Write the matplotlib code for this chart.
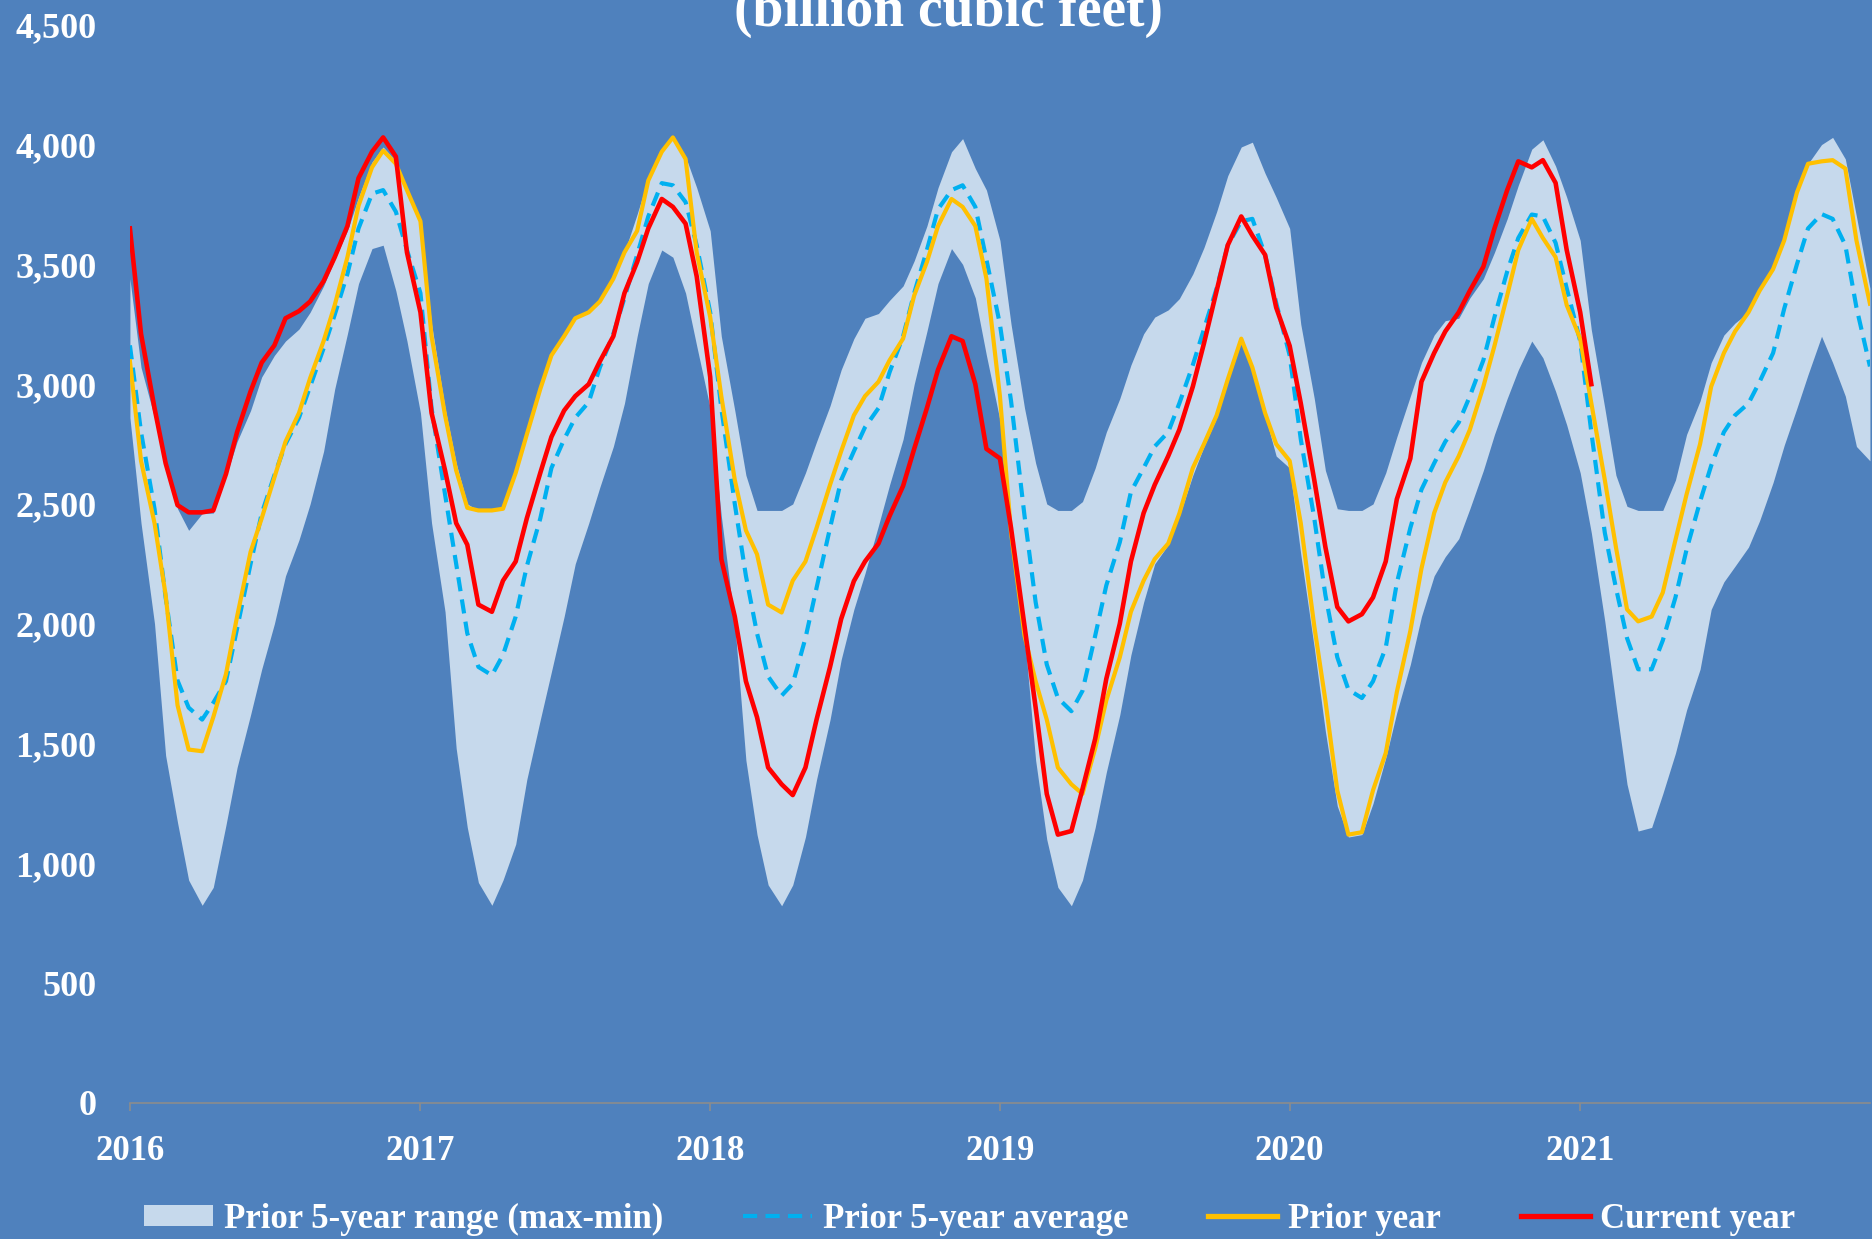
import numpy as np
import pandas as pd
import matplotlib
matplotlib.use("Agg")
import matplotlib.pyplot as plt
import matplotlib.dates as mdates
from matplotlib.patches import Patch
from matplotlib.lines import Line2D
from matplotlib.ticker import FuncFormatter

plt.rcParams['font.family'] = ['Liberation Serif', 'DejaVu Serif']
plt.rcParams['font.weight'] = 'bold'

# semi-monthly readings, 1st and 15th of each month, Jan 2016 .. Jan 2022
dates = pd.date_range('2016-01-01', '2022-01-01', freq='SMS')
year_ticks = pd.date_range('2016-01-01', '2021-01-01', freq='YS')

range_max = [
    3440, 3070, 2860, 2660, 2480, 2390, 2460, 2462, 2615, 2760, 2890, 3030, 3120, 3180, 3230, 3300, 3410, 3520, 3640, 3780, 3927, 3990, 3930, 3820,
    3690, 3250, 2900, 2670, 2500, 2473, 2473, 2480, 2630, 2790, 2980, 3120, 3205, 3280, 3300, 3350, 3440, 3550, 3710, 3860, 3980, 4030, 3950, 3820,
    3640, 3200, 2890, 2620, 2473, 2473, 2473, 2500, 2630, 2760, 2910, 3060, 3190, 3275, 3295, 3350, 3410, 3515, 3660, 3820, 3970, 4025, 3900, 3810,
    3600, 3250, 2900, 2670, 2500, 2473, 2473, 2510, 2650, 2800, 2940, 3080, 3210, 3280, 3310, 3357, 3460, 3570, 3720, 3870, 3990, 4010, 3880, 3780,
    3650, 3250, 2940, 2640, 2480, 2473, 2473, 2500, 2630, 2780, 2950, 3090, 3205, 3265, 3275, 3360, 3440, 3550, 3690, 3830, 3981, 4020, 3910, 3780,
    3600, 3227, 2900, 2620, 2490, 2473, 2473, 2473, 2600, 2790, 2930, 3090, 3205, 3255, 3300, 3390, 3480, 3600, 3800, 3920, 4000, 4030, 3940, 3700,
    3400]

range_min = [
    2860, 2420, 2000, 1450, 1170, 930, 825, 900, 1160, 1400, 1620, 1810, 2000, 2200, 2350, 2500, 2720, 2980, 3210, 3420, 3566, 3580, 3390, 3180,
    2880, 2420, 2050, 1480, 1150, 920, 825, 930, 1080, 1350, 1600, 1800, 2030, 2250, 2420, 2570, 2740, 2920, 3200, 3420, 3560, 3530, 3380, 3160,
    2900, 2450, 2000, 1430, 1120, 910, 823, 910, 1110, 1350, 1600, 1850, 2060, 2210, 2410, 2580, 2770, 3000, 3220, 3420, 3566, 3500, 3360, 3120,
    2850, 2400, 1950, 1430, 1100, 900, 823, 930, 1150, 1380, 1620, 1870, 2090, 2250, 2330, 2450, 2620, 2740, 2860, 3010, 3180, 3060, 2870, 2700,
    2650, 2290, 1900, 1550, 1239, 1110, 1120, 1250, 1440, 1630, 1830, 2030, 2200, 2280, 2355, 2480, 2640, 2790, 2940, 3060, 3180, 3110, 2970, 2830,
    2630, 2380, 2010, 1665, 1330, 1135, 1150, 1290, 1460, 1640, 1810, 2060, 2175, 2240, 2320, 2430, 2590, 2745, 2900, 3040, 3200, 3090, 2950, 2740,
    2680]

avg_5yr = [
    3162, 2800, 2480, 2110, 1763, 1650, 1600, 1670, 1760, 1980, 2250, 2460, 2620, 2750, 2860, 2990, 3150, 3290, 3460, 3650, 3795, 3810, 3720, 3560,
    3380, 2900, 2540, 2250, 1960, 1820, 1785, 1870, 2030, 2240, 2440, 2650, 2770, 2860, 2925, 3070, 3210, 3360, 3540, 3700, 3839, 3830, 3760, 3580,
    3300, 2900, 2500, 2200, 1960, 1780, 1700, 1750, 1940, 2150, 2400, 2600, 2720, 2820, 2900, 3050, 3200, 3380, 3560, 3730, 3810, 3830, 3740, 3520,
    3250, 2930, 2450, 2090, 1830, 1690, 1635, 1720, 1950, 2160, 2340, 2550, 2650, 2740, 2800, 2920, 3080, 3230, 3400, 3580, 3680, 3690, 3540, 3340,
    3120, 2770, 2440, 2120, 1860, 1725, 1690, 1760, 1900, 2170, 2400, 2560, 2670, 2760, 2840, 2950, 3100, 3280, 3470, 3610, 3708, 3700, 3590, 3400,
    3180, 2800, 2380, 2150, 1940, 1810, 1810, 1930, 2110, 2310, 2510, 2660, 2800, 2870, 2920, 3010, 3130, 3315, 3500, 3650, 3710, 3690, 3580, 3320,
    3074]

prior_year = [
    3096, 2680, 2420, 2120, 1660, 1475, 1468, 1610, 1790, 2030, 2300, 2440, 2610, 2760, 2880, 3025, 3180, 3330, 3530, 3745, 3905, 3975, 3920, 3810,
    3680, 3200, 2870, 2640, 2484, 2473, 2473, 2480, 2630, 2790, 2980, 3120, 3200, 3275, 3300, 3345, 3440, 3550, 3640, 3850, 3970, 4030, 3940, 3550,
    3280, 2950, 2600, 2390, 2290, 2080, 2047, 2180, 2260, 2400, 2580, 2720, 2870, 2950, 3010, 3100, 3190, 3370, 3510, 3660, 3773, 3740, 3660, 3440,
    2950, 2380, 1950, 1760, 1600, 1400, 1330, 1290, 1480, 1680, 1860, 2050, 2180, 2270, 2335, 2460, 2650, 2750, 2870, 3020, 3190, 3070, 2880, 2750,
    2680, 2420, 1990, 1680, 1304, 1120, 1130, 1305, 1460, 1715, 1970, 2230, 2462, 2590, 2700, 2810, 2990, 3160, 3370, 3560, 3690, 3610, 3530, 3330,
    3190, 2921, 2600, 2320, 2060, 2010, 2030, 2130, 2350, 2540, 2750, 2990, 3130, 3220, 3300, 3390, 3480, 3600, 3800, 3920, 3930, 3935, 3900, 3600,
    3336]

current_year = [
    3650, 3210, 2900, 2670, 2495, 2465, 2465, 2473, 2625, 2800, 2970, 3090, 3162, 3275, 3305, 3345, 3430, 3530, 3660, 3860, 3970, 4030, 3950, 3550,
    3300, 2880, 2640, 2420, 2330, 2080, 2050, 2180, 2260, 2440, 2630, 2780, 2890, 2950, 3000, 3095, 3200, 3380, 3510, 3650, 3773, 3740, 3670, 3450,
    3030, 2270, 2030, 1760, 1610, 1400, 1330, 1285, 1400, 1600, 1820, 2020, 2178, 2260, 2335, 2450, 2575, 2730, 2900, 3060, 3200, 3180, 3000, 2730,
    2690, 2400, 1990, 1650, 1290, 1120, 1135, 1310, 1520, 1770, 2000, 2260, 2462, 2580, 2700, 2810, 2990, 3170, 3390, 3580, 3700, 3620, 3540, 3320,
    3160, 2920, 2600, 2320, 2070, 2010, 2040, 2110, 2260, 2520, 2690, 3010, 3130, 3220, 3300, 3390, 3490, 3650, 3810, 3930, 3905, 3935, 3840, 3560,
    3300, 3000]

bg = '#4F81BD'
band_col = '#C6D9EC'
avg_col = '#00B0F0'
prior_col = '#FFC000'
cur_col = '#FF0000'
dash = (0, (3.4, 2.0))

fig = plt.figure(figsize=(18.72, 12.39), dpi=100, facecolor=bg)
ax = fig.add_axes([0.0694, 0.1098, 0.9295, 0.8702])
ax.set_facecolor(bg)

ax.fill_between(dates, range_min, range_max, color=band_col, lw=0)
ax.plot(dates, avg_5yr, color=avg_col, lw=3.0, ls=dash)
ax.plot(dates, prior_year, color=prior_col, lw=3.0)
ax.plot(dates[:len(current_year)], current_year, color=cur_col, lw=3.3)

ax.set_xlim(dates[0], dates[-1])
ax.set_ylim(0, 4500)
ax.set_yticks(np.arange(0, 4501, 500))
ax.yaxis.set_major_formatter(FuncFormatter(lambda v, p: '{:,.0f}'.format(v)))
ax.set_xticks(year_ticks)
ax.xaxis.set_major_formatter(mdates.DateFormatter('%Y'))

for s in ['top', 'right', 'left']:
    ax.spines[s].set_visible(False)
ax.spines['bottom'].set_color('#8C8C8C')
ax.spines['bottom'].set_linewidth(1.2)

ax.tick_params(axis='y', length=0, pad=24, labelsize=26, labelcolor='white')
ax.tick_params(axis='x', length=6, width=1.2, color='#8C8C8C', pad=17,
               labelsize=25, labelcolor='white')

fig.text(949 / 1872, 1 - 26 / 1239, '(billion cubic feet)', ha='center',
         va='baseline', color='white', fontsize=40, fontweight='bold')

handles = [Patch(facecolor=band_col, edgecolor='none'),
           Line2D([], [], color=avg_col, lw=3.0, ls=dash),
           Line2D([], [], color=prior_col, lw=3.8),
           Line2D([], [], color=cur_col, lw=3.8)]
labels = ['Prior 5-year range (max-min)', 'Prior 5-year average',
          'Prior year', 'Current year']
fig.legend(handles, labels, loc='center', bbox_to_anchor=(0.518, 0.016),
           ncol=4, frameon=False, handlelength=2.0, handleheight=0.55,
           handletextpad=0.3, columnspacing=2.3, labelcolor='white',
           prop={'family': 'Liberation Serif', 'weight': 'bold', 'size': 25})

fig.savefig('out.png', dpi=100, facecolor=bg)
